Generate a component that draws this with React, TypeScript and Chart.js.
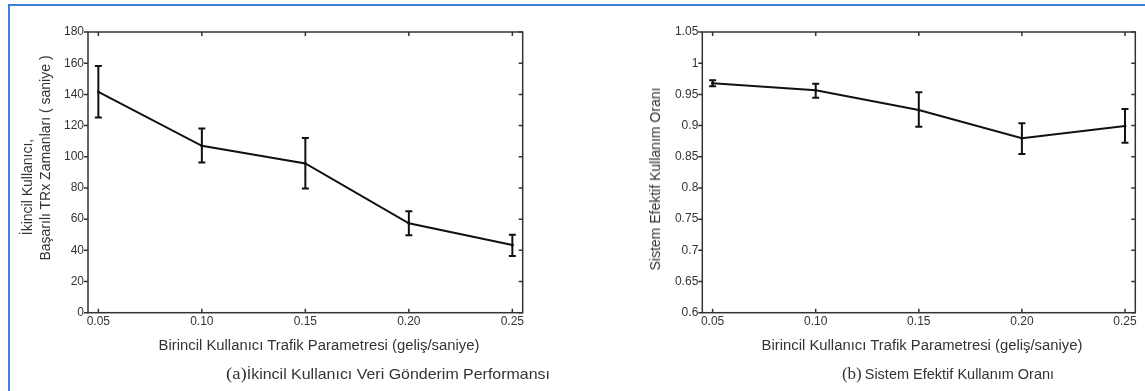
import React, { useEffect, useRef } from "react";
import { Chart, registerables } from "chart.js";

Chart.register(...registerables);

// ---- data ----
const xValues = [0.05, 0.1, 0.15, 0.2, 0.25];
const xTickLabels = ["0.05", "0.10", "0.15", "0.20", "0.25"];

// (a) İkincil Kullanıcı Veri Gönderim Performansı
const meanA = [141.6, 107.0, 95.7, 57.3, 43.4];
const upperA = [158.2, 118.1, 112.1, 65.1, 50.0];
const lowerA = [125.2, 96.3, 79.7, 49.6, 36.3];
const yTicksA = [0, 20, 40, 60, 80, 100, 120, 140, 160, 180];
const yTickLabelsA = ["0", "20", "40", "60", "80", "100", "120", "140", "160", "180"];

// (b) Sistem Efektif Kullanım Oranı
const meanB = [0.968, 0.9565, 0.925, 0.8796, 0.8993];
const upperB = [0.9725, 0.967, 0.9533, 0.9036, 0.9266];
const lowerB = [0.963, 0.9447, 0.898, 0.8544, 0.8725];
const yTicksB = [0.6, 0.65, 0.7, 0.75, 0.8, 0.85, 0.9, 0.95, 1.0, 1.05];
const yTickLabelsB = ["0.6", "0.65", "0.7", "0.75", "0.8", "0.85", "0.9", "0.95", "1", "1.05"];

const SANS = "'Liberation Sans', Arial, sans-serif";
const SERIF = "'Liberation Serif', 'Times New Roman', serif";
const TEXT = "#333";

function makePlugin(upper: number[], lower: number[]) {
  return {
    id: "frameErr",
    afterDatasetsDraw(chart: any) {
      const { ctx, chartArea: a, scales } = chart;
      const xs = scales.x;
      const ys = scales.y;
      ctx.save();
      ctx.strokeStyle = "#111";
      ctx.lineWidth = 2;
      xValues.forEach((xv, i) => {
        const px = xs.getPixelForValue(xv);
        const pt = ys.getPixelForValue(upper[i]);
        const pb = ys.getPixelForValue(lower[i]);
        ctx.beginPath();
        ctx.moveTo(px, pt);
        ctx.lineTo(px, pb);
        ctx.moveTo(px - 3.5, pt);
        ctx.lineTo(px + 3.5, pt);
        ctx.moveTo(px - 3.5, pb);
        ctx.lineTo(px + 3.5, pb);
        ctx.stroke();
      });
      ctx.strokeStyle = "#333";
      ctx.lineWidth = 1.5;
      ctx.strokeRect(a.left, a.top, a.right - a.left, a.bottom - a.top);
      ctx.beginPath();
      xs.ticks.forEach((t: any) => {
        const px = xs.getPixelForValue(t.value);
        ctx.moveTo(px, a.bottom);
        ctx.lineTo(px, a.bottom - 4);
        ctx.moveTo(px, a.top);
        ctx.lineTo(px, a.top + 4);
      });
      ys.ticks.forEach((t: any) => {
        const py = ys.getPixelForValue(t.value);
        ctx.moveTo(a.left - 4, py);
        ctx.lineTo(a.left, py);
        ctx.moveTo(a.right, py);
        ctx.lineTo(a.right - 4, py);
      });
      ctx.stroke();
      ctx.restore();
    },
  };
}

function makeConfig(
  mean: number[],
  upper: number[],
  lower: number[],
  yTicks: number[],
  yLabels: string[],
  yMin: number,
  yMax: number,
  yWidth: number,
  rightPad: number
): any {
  return {
    type: "line",
    data: {
      datasets: [
        {
          data: xValues.map((x, i) => ({ x, y: mean[i] })),
          borderColor: "#111",
          borderWidth: 2,
          pointRadius: 1.5,
          pointBackgroundColor: "#111",
          pointBorderWidth: 0,
          tension: 0,
        },
      ],
    },
    options: {
      animation: false,
      responsive: false,
      layout: { padding: { top: 32, left: 0, right: rightPad, bottom: 0 } },
      plugins: { legend: { display: false }, tooltip: { enabled: false } },
      scales: {
        x: {
          type: "linear",
          min: 0.045,
          max: 0.255,
          afterBuildTicks: (s: any) => {
            s.ticks = xValues.map((v) => ({ value: v }));
          },
          afterFit: (s: any) => {
            s.height = 391 - 312.7;
          },
          ticks: {
            callback: (_v: any, i: number) => xTickLabels[i],
            font: { family: SANS, size: 12 },
            color: TEXT,
            padding: 2,
            maxRotation: 0,
            autoSkip: false,
          },
          grid: { display: false, drawTicks: false },
          border: { display: false },
        },
        y: {
          type: "linear",
          min: yMin,
          max: yMax,
          afterBuildTicks: (s: any) => {
            s.ticks = yTicks.map((v) => ({ value: v }));
          },
          afterFit: (s: any) => {
            s.width = yWidth;
          },
          ticks: {
            callback: (_v: any, i: number) => yLabels[i],
            font: { family: SANS, size: 12 },
            color: TEXT,
            padding: 4,
            autoSkip: false,
          },
          grid: { display: false, drawTicks: false },
          border: { display: false },
        },
      },
    },
    plugins: [makePlugin(upper, lower)],
  };
}

function ChartCanvas(props: { config: any; left: number; width: number }) {
  const ref = useRef<HTMLCanvasElement | null>(null);
  useEffect(() => {
    if (!ref.current) return;
    const c = new Chart(ref.current, props.config);
    return () => c.destroy();
  }, []);
  return (
    <canvas
      ref={ref}
      width={props.width}
      height={391}
      style={{ position: "absolute", left: props.left, top: 0, width: props.width, height: 391 }}
    />
  );
}

const abs = (x: number, y: number, extra: any = {}): any => ({
  position: "absolute",
  left: x,
  top: y,
  transform: "translate(-50%, -50%)",
  whiteSpace: "nowrap",
  color: TEXT,
  fontFamily: SANS,
  fontSize: 14,
  lineHeight: 1,
  ...extra,
});

const rot = (x: number, y: number, extra: any = {}): any =>
  abs(x, y, { transform: "translate(-50%, -50%) rotate(-90deg)", ...extra });

export default function App() {
  const cfgA = makeConfig(meanA, upperA, lowerA, yTicksA, yTickLabelsA, 0, 180, 88, 37.3);
  const cfgB = makeConfig(meanB, upperB, lowerB, yTicksB, yTickLabelsB, 0.6, 1.05, 142.3, 9.7);
  return (
    <div
      style={{
        position: "fixed",
        left: 0,
        top: 0,
        width: 1145,
        height: 391,
        overflow: "hidden",
        background: "#fff",
      }}
    >
      <div
        style={{
          position: "absolute",
          left: 8,
          top: 4,
          width: 2000,
          height: 2000,
          borderTop: "2px solid #3d7fd6",
          borderLeft: "2px solid #3d7fd6",
        }}
      />
      <ChartCanvas config={cfgA} left={0} width={560} />
      <ChartCanvas config={cfgB} left={560} width={585} />

      <div style={rot(27, 187)}>İkincil Kullanıcı,</div>
      <div style={rot(45, 157.5)}>Başarılı TRx Zamanları ( saniye )</div>
      <div style={rot(655, 179)}>Sistem Efektif Kullanım Oranı</div>

      <div style={abs(318.5, 345, { transform: "translate(-50%, -50%) scaleX(1.06)" })}>
        Birincil Kullanıcı Trafik Parametresi (geliş/saniye)
      </div>
      <div style={abs(921.7, 345, { transform: "translate(-50%, -50%) scaleX(1.06)" })}>
        Birincil Kullanıcı Trafik Parametresi (geliş/saniye)
      </div>

      <div style={abs(388, 373, { fontSize: 14.5, transform: "translate(-50%, -50%) scaleX(1.1)" })}>
        <span style={{ fontFamily: SERIF, fontSize: 17 }}>(a)</span>İkincil Kullanıcı Veri Gönderim Performansı
      </div>
      <div style={abs(948, 373, { fontSize: 14.5, transform: "translate(-50%, -50%) scaleX(1.0)" })}>
        <span style={{ fontFamily: SERIF, fontSize: 17, marginRight: 3 }}>(b)</span>Sistem Efektif Kullanım Oranı
      </div>
    </div>
  );
}
